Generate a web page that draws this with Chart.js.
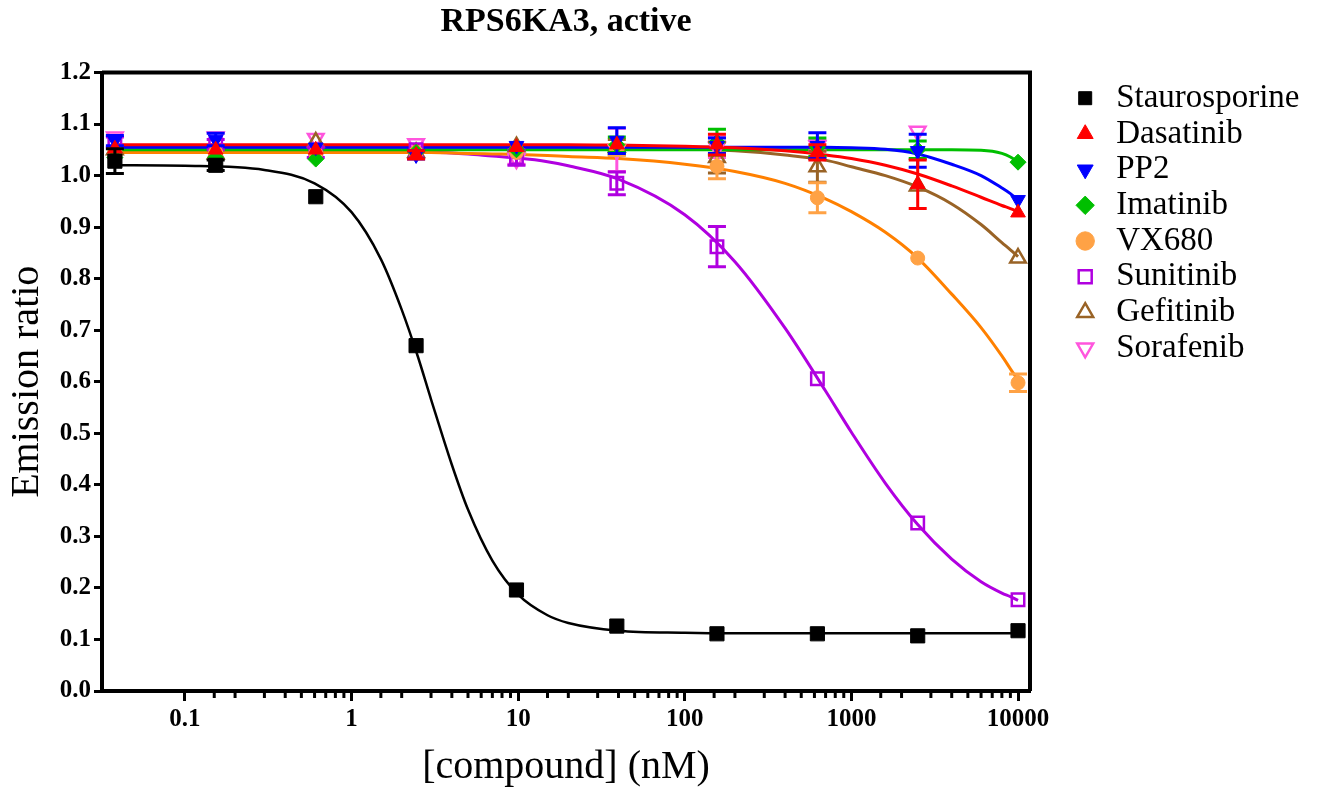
<!DOCTYPE html>
<html lang="en">
<head>
<meta charset="UTF-8">
<title>RPS6KA3, active</title>
<script src="https://cdn.jsdelivr.net/npm/chart.js"></script>
<style>
    body { margin: 0; background: white; }
    .wrap { width: 1317px; height: 788px; position: relative; }
</style>
</head>
<body>
<div class="wrap"><canvas id="curve"></canvas></div>
<script>
// concentrations (nM), 4-fold dilution
const concentrations = [0.038, 0.153, 0.61, 2.44, 9.77, 39.1, 156, 625, 2500, 10000];

// measured points and error half-widths
const staurosporine    = [1.028, 1.020, 0.959, 0.670, 0.196, 0.126, 0.111, 0.111, 0.107, 0.117];
const staurosporineErr = [0.024, 0.010, 0, 0, 0, 0, 0, 0, 0, 0];
const dasatinib        = [1.052, 1.050, 1.050, 1.040, 1.055, 1.060, 1.060, 1.045, 0.983, 0.928];
const dasatinibErr     = [0, 0, 0, 0.008, 0, 0, 0.020, 0.015, 0.047, 0];
const pp2              = [1.068, 1.070, 1.055, 1.040, 1.058, 1.068, 1.058, 1.058, 1.048, 0.953];
const pp2Err           = [0.010, 0.012, 0, 0.008, 0, 0.025, 0.015, 0.025, 0.032, 0];
const imatinib         = [1.035, 1.035, 1.032, 1.045, 1.050, 1.060, 1.065, 1.055, 1.050, 1.026];
const imatinibErr      = [0, 0, 0, 0, 0, 0.015, 0.025, 0.018, 0.017, 0];
const vx680            = [1.048, 1.045, 1.043, 1.045, 1.045, 1.050, 1.018, 0.957, 0.840, 0.598];
const vx680Err         = [0, 0, 0, 0, 0, 0.010, 0.024, 0.029, 0, 0.017];
const sunitinib        = [1.065, 1.060, 1.045, 1.050, 1.035, 0.985, 0.862, 0.606, 0.326, 0.177];
const sunitinibErr     = [0.010, 0.010, 0.010, 0, 0.015, 0.022, 0.039, 0, 0, 0];
const gefitinib        = [1.050, 1.042, 1.065, 1.045, 1.056, 1.055, 1.035, 1.017, 0.980, 0.840];
const gefitinibErr     = [0, 0, 0, 0, 0, 0.015, 0.030, 0.030, 0, 0];
const sorafenib        = [1.075, 1.075, 1.072, 1.062, 1.032, 1.050, 1.055, 1.058, 1.086, null];
const sorafenibErr     = [0, 0, 0, 0, 0.010, 0.042, 0.020, 0.010, 0, 0];

// fitted curves at these concentrations (sorafenib has none)
const curveX           = [0.038, 0.1, 0.3, 0.6, 1, 1.5, 2, 2.5, 3, 4, 5, 7, 10, 15, 20, 40, 100, 200, 400, 700, 1000, 1600, 2500, 4000, 6000, 8000, 9000, 10000];
const staurosporineFit = [1.020, 1.019, 1.011, 0.985, 0.929, 0.838, 0.740, 0.649, 0.566, 0.439, 0.352, 0.253, 0.187, 0.147, 0.132, 0.117, 0.113, 0.112, 0.112, 0.112, 0.112, 0.112, 0.112, 0.112, 0.112, 0.112, 0.112, 0.112];
const dasatinibFit     = [1.060, 1.060, 1.060, 1.060, 1.060, 1.060, 1.060, 1.060, 1.060, 1.060, 1.060, 1.060, 1.060, 1.060, 1.060, 1.059, 1.057, 1.054, 1.048, 1.040, 1.033, 1.020, 1.003, 0.980, 0.958, 0.942, 0.936, 0.930];
const pp2Fit           = [1.055, 1.055, 1.055, 1.055, 1.055, 1.055, 1.055, 1.055, 1.055, 1.055, 1.055, 1.055, 1.055, 1.055, 1.055, 1.055, 1.055, 1.055, 1.055, 1.055, 1.054, 1.051, 1.042, 1.022, 1.000, 0.976, 0.965, 0.953];
const imatinibFit      = [1.050, 1.050, 1.050, 1.050, 1.050, 1.050, 1.050, 1.050, 1.050, 1.050, 1.050, 1.050, 1.050, 1.050, 1.050, 1.050, 1.050, 1.050, 1.050, 1.050, 1.050, 1.050, 1.050, 1.050, 1.049, 1.043, 1.036, 1.026];
const vx680Fit         = [1.045, 1.045, 1.045, 1.045, 1.045, 1.045, 1.045, 1.045, 1.045, 1.044, 1.043, 1.042, 1.041, 1.039, 1.037, 1.033, 1.022, 1.008, 0.985, 0.955, 0.930, 0.890, 0.840, 0.770, 0.705, 0.650, 0.625, 0.603];
const sunitinibFit     = [1.050, 1.050, 1.050, 1.049, 1.049, 1.048, 1.047, 1.046, 1.045, 1.044, 1.042, 1.038, 1.034, 1.027, 1.019, 0.993, 0.924, 0.833, 0.704, 0.582, 0.502, 0.403, 0.323, 0.256, 0.212, 0.190, 0.183, 0.176];
const gefitinibFit     = [1.055, 1.055, 1.055, 1.055, 1.055, 1.055, 1.055, 1.055, 1.055, 1.055, 1.055, 1.055, 1.055, 1.055, 1.055, 1.054, 1.052, 1.048, 1.040, 1.030, 1.017, 1.000, 0.978, 0.945, 0.905, 0.870, 0.856, 0.843];

const xTickLabels = ["0.1", "1", "10", "100", "1000", "10000"];
const yMin = 0, yMax = 1.2, yStep = 0.1;

const SERIF = "'Liberation Serif', 'Times New Roman', serif";

const compounds = [
    { name: "Staurosporine", y: staurosporine, err: staurosporineErr, fit: staurosporineFit, color: "#000000", line: "#000000", style: "rect", r: 10, open: false },
    { name: "Dasatinib", y: dasatinib, err: dasatinibErr, fit: dasatinibFit, color: "#ff0000", line: "#ff0000", style: "triangle", r: 8.5, open: false },
    { name: "PP2", y: pp2, err: pp2Err, fit: pp2Fit, color: "#0000ff", line: "#0000ff", style: "triangle", rot: 180, r: 8.5, open: false },
    { name: "Imatinib", y: imatinib, err: imatinibErr, fit: imatinibFit, color: "#00bf00", line: "#00bf00", style: "rectRot", r: 8, open: false },
    { name: "VX680", y: vx680, err: vx680Err, fit: vx680Fit, color: "#ffa245", line: "#ff8000", style: "circle", r: 7, open: false },
    { name: "Sunitinib", y: sunitinib, err: sunitinibErr, fit: sunitinibFit, color: "#b000e0", line: "#b000e0", style: "rect", r: 8.8, open: true },
    { name: "Gefitinib", y: gefitinib, err: gefitinibErr, fit: gefitinibFit, color: "#996326", line: "#996326", style: "triangle", r: 9, open: true },
    { name: "Sorafenib", y: sorafenib, err: sorafenibErr, fit: null, color: "#ff55dd", line: "#ff55dd", style: "triangle", rot: 180, r: 9, open: true }
];

const pointSets = compounds.map(c => ({
    label: c.name,
    data: concentrations.map((x, i) => ({ x: x, y: c.y[i] })),
    errors: c.err,
    showLine: false,
    borderColor: c.color,
    backgroundColor: c.open ? "rgba(0,0,0,0)" : c.color,
    pointStyle: c.style,
    pointRotation: c.rot || 0,
    pointRadius: c.r,
    pointBorderWidth: c.open ? 2.5 : 1,
    pointBorderColor: c.color,
    pointBackgroundColor: c.open ? "rgba(0,0,0,0)" : c.color,
    order: 0
}));

const fitSets = compounds.filter(c => c.fit).map(c => ({
    label: c.name + " fit",
    data: curveX.map((x, i) => ({ x: x, y: c.fit[i] })),
    borderColor: c.line,
    borderWidth: c.name === "Staurosporine" ? 2.5 : 3,
    pointRadius: 0,
    fill: false,
    cubicInterpolationMode: "monotone",
    order: 1
}));

const isDecade = v => Math.abs(Math.log10(v) - Math.round(Math.log10(v))) < 1e-6;

const errorBars = {
    id: "errorBars",
    beforeDatasetDraw(chart, args) {
        const ds = chart.data.datasets[args.index];
        if (!ds.errors) return;
        const xs = chart.scales.x, ys = chart.scales.y, ctx = chart.ctx;
        ctx.save();
        ctx.strokeStyle = ds.borderColor;
        ctx.lineWidth = 3;
        ds.data.forEach((p, i) => {
            const e = ds.errors[i];
            if (!e || p.y == null) return;
            const px = xs.getPixelForValue(p.x);
            const t = ys.getPixelForValue(p.y + e), b = ys.getPixelForValue(p.y - e);
            ctx.beginPath();
            ctx.moveTo(px, t); ctx.lineTo(px, b);
            ctx.moveTo(px - 9, t); ctx.lineTo(px + 9, t);
            ctx.moveTo(px - 9, b); ctx.lineTo(px + 9, b);
            ctx.stroke();
        });
        ctx.restore();
    }
};

const frame = {
    id: "frame",
    afterLayout(chart) {
        // legend sits to the right of the plot, past the frame
        const lg = chart.legend;
        const w = lg.width, h = lg.height;
        lg.left = 1068; lg.right = lg.left + w;
        lg.top = chart.chartArea.top + 6.5; lg.bottom = lg.top + h;
    },
    afterDraw(chart) {
        const { ctx, chartArea: a } = chart;
        const xs = chart.scales.x;
        ctx.save();
        ctx.strokeStyle = "#000";
        ctx.lineWidth = 4;
        ctx.beginPath();
        ctx.moveTo(a.left, a.top); ctx.lineTo(a.right, a.top); ctx.lineTo(a.right, a.bottom);
        ctx.stroke();
        // short minor ticks on the log axis
        ctx.lineWidth = 3;
        xs.ticks.forEach(t => {
            if (isDecade(t.value) || t.value < 0.1 || t.value > 10000) return;
            const px = xs.getPixelForValue(t.value);
            ctx.beginPath();
            ctx.moveTo(px, a.bottom); ctx.lineTo(px, a.bottom + 7);
            ctx.stroke();
        });
        ctx.restore();
    }
};

new Chart(document.getElementById("curve"), {
    type: "line",
    data: { datasets: pointSets.concat(fitSets) },
    plugins: [errorBars, frame],
    options: {
        responsive: true,
        maintainAspectRatio: false,
        animation: false,
        layout: { padding: { left: 0, right: 287, top: 0, bottom: 0 } },
        plugins: {
            title: {
                display: true,
                text: "RPS6KA3, active",
                fullSize: false,
                color: "#000",
                font: { family: SERIF, size: 34, weight: "bold", lineHeight: 1 },
                padding: { top: 5, bottom: 33.5 }
            },
            legend: {
                position: "chartArea",
                align: "start",
                labels: {
                    usePointStyle: true,
                    boxWidth: 29,
                    boxHeight: 13,
                    padding: 2.7,
                    color: "#000",
                    font: { family: SERIF, size: 33 },
                    filter: item => !item.text.endsWith(" fit")
                }
            },
            tooltip: { enabled: false }
        },
        scales: {
            x: {
                type: "logarithmic",
                min: 0.0318,
                max: 11800,
                afterFit: s => { s.height = 97; },
                border: { color: "#000", width: 4 },
                grid: {
                    drawOnChartArea: false,
                    tickLength: 10,
                    tickWidth: 3,
                    tickColor: c => (c.tick && isDecade(c.tick.value) ? "#000" : "rgba(0,0,0,0)")
                },
                ticks: {
                    autoSkip: false,
                    maxRotation: 0,
                    minRotation: 0,
                    padding: 4,
                    color: "#000",
                    font: { family: SERIF, size: 25, weight: "bold" },
                    callback: v => (isDecade(v) ? xTickLabels[Math.round(Math.log10(v)) + 1] || "" : "")
                },
                title: {
                    display: true,
                    text: "[compound] (nM)",
                    color: "#000",
                    font: { family: SERIF, size: 40, lineHeight: 1 },
                    padding: { top: 0, bottom: 1 }
                }
            },
            y: {
                min: yMin,
                max: yMax,
                afterFit: s => { s.width = 102; },
                border: { color: "#000", width: 4 },
                grid: { drawOnChartArea: false, tickLength: 8, tickWidth: 3, tickColor: "#000" },
                ticks: {
                    stepSize: yStep,
                    padding: 3,
                    color: "#000",
                    font: { family: SERIF, size: 25, weight: "bold" },
                    callback: v => v.toFixed(1)
                },
                title: {
                    display: true,
                    text: "Emission ratio",
                    color: "#000",
                    font: { family: SERIF, size: 40, lineHeight: 1 },
                    padding: { top: 7, bottom: 0 }
                }
            }
        }
    }
});
</script>
</body>
</html>
